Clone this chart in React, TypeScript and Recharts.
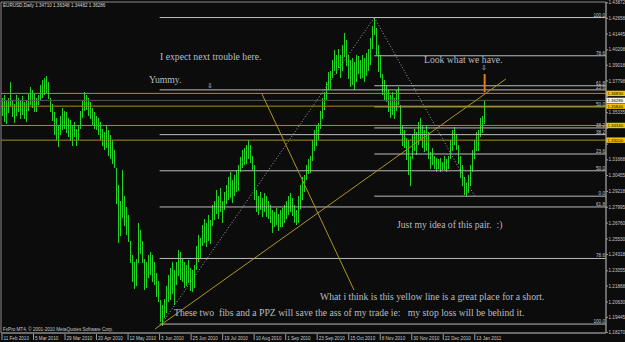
import React from 'react'
import { ComposedChart, Bar, XAxis, YAxis, ReferenceLine, ReferenceArea } from 'recharts'

// EURUSD daily bars, 11 Feb 2010 .. 20 Jan 2011
const highs = [
  1.365, 1.367, 1.363, 1.365, 1.377, 1.363, 1.36, 1.367, 1.365, 1.363,
  1.366, 1.362, 1.363, 1.368, 1.373, 1.371, 1.368, 1.366, 1.365, 1.367,
  1.375, 1.379, 1.38, 1.382, 1.377, 1.365, 1.36, 1.354, 1.349, 1.344,
  1.351, 1.357, 1.355, 1.354, 1.349, 1.348, 1.344, 1.346, 1.341, 1.344,
  1.355, 1.363, 1.369, 1.367, 1.365, 1.362, 1.357, 1.354, 1.351, 1.349,
  1.346, 1.341, 1.338, 1.344, 1.34, 1.336, 1.332, 1.324, 1.31, 1.297,
  1.285, 1.309, 1.289, 1.28, 1.274, 1.254, 1.243, 1.237, 1.24, 1.268,
  1.262, 1.254, 1.24, 1.237, 1.243, 1.245, 1.243, 1.237, 1.229, 1.223,
  1.208, 1.204, 1.209, 1.216, 1.219, 1.227, 1.233, 1.237, 1.231, 1.237,
  1.247, 1.245, 1.24, 1.237, 1.235, 1.239, 1.233, 1.231, 1.235, 1.25,
  1.258, 1.256, 1.266, 1.271, 1.268, 1.274, 1.27, 1.282, 1.285, 1.293,
  1.289, 1.295, 1.285, 1.292, 1.297, 1.303, 1.307, 1.301, 1.305, 1.309,
  1.313, 1.319, 1.324, 1.326, 1.328, 1.332, 1.328, 1.32, 1.313, 1.293,
  1.289, 1.292, 1.287, 1.291, 1.289, 1.285, 1.282, 1.278, 1.276, 1.279,
  1.275, 1.278, 1.279, 1.282, 1.285, 1.289, 1.291, 1.287, 1.282, 1.278,
  1.279, 1.289, 1.297, 1.303, 1.305, 1.313, 1.317, 1.32, 1.332, 1.34,
  1.344, 1.345, 1.355, 1.365, 1.369, 1.377, 1.385, 1.386, 1.394, 1.402,
  1.398, 1.403, 1.398, 1.406, 1.415, 1.41, 1.398, 1.394, 1.396, 1.393,
  1.398, 1.397, 1.394, 1.398, 1.396, 1.4, 1.403, 1.411, 1.421, 1.427,
  1.419, 1.406, 1.398, 1.383, 1.379, 1.375, 1.371, 1.367, 1.369, 1.365,
  1.371, 1.373, 1.359, 1.344, 1.34, 1.334, 1.332, 1.32, 1.336, 1.341,
  1.338, 1.346, 1.349, 1.344, 1.34, 1.344, 1.338, 1.332, 1.323, 1.326,
  1.32, 1.318, 1.317, 1.318, 1.315, 1.32, 1.317, 1.32, 1.332, 1.34,
  1.342, 1.336, 1.328, 1.32, 1.313, 1.303, 1.299, 1.305, 1.313, 1.324,
  1.332, 1.338, 1.34, 1.349, 1.351, 1.3635,
]
const lows = [
  1.351, 1.346, 1.344, 1.353, 1.358, 1.35, 1.345, 1.351, 1.354, 1.348,
  1.351, 1.349, 1.346, 1.355, 1.359, 1.357, 1.354, 1.355, 1.354, 1.359,
  1.363, 1.365, 1.367, 1.369, 1.364, 1.354, 1.347, 1.336, 1.332, 1.327,
  1.336, 1.34, 1.341, 1.338, 1.334, 1.332, 1.328, 1.334, 1.328, 1.332,
  1.341, 1.349, 1.354, 1.355, 1.351, 1.349, 1.344, 1.341, 1.34, 1.336,
  1.332, 1.328, 1.324, 1.326, 1.32, 1.317, 1.313, 1.31, 1.282, 1.252,
  1.258, 1.272, 1.266, 1.258, 1.253, 1.237, 1.222, 1.216, 1.219, 1.237,
  1.243, 1.237, 1.216, 1.217, 1.225, 1.227, 1.222, 1.219, 1.21, 1.207,
  1.191, 1.188, 1.194, 1.198, 1.2, 1.206, 1.208, 1.212, 1.204, 1.219,
  1.227, 1.223, 1.222, 1.217, 1.219, 1.221, 1.215, 1.214, 1.217, 1.231,
  1.237, 1.24, 1.25, 1.252, 1.249, 1.254, 1.251, 1.266, 1.27, 1.274,
  1.271, 1.276, 1.268, 1.278, 1.282, 1.285, 1.287, 1.283, 1.289, 1.292,
  1.293, 1.307, 1.31, 1.313, 1.313, 1.317, 1.314, 1.309, 1.286, 1.276,
  1.274, 1.278, 1.272, 1.276, 1.273, 1.271, 1.268, 1.26, 1.264, 1.266,
  1.262, 1.265, 1.264, 1.268, 1.271, 1.274, 1.276, 1.273, 1.268, 1.266,
  1.267, 1.271, 1.278, 1.285, 1.292, 1.301, 1.305, 1.307, 1.316, 1.324,
  1.328, 1.332, 1.341, 1.349, 1.355, 1.363, 1.371, 1.372, 1.38, 1.386,
  1.383, 1.388, 1.38, 1.386, 1.396, 1.39, 1.379, 1.373, 1.375, 1.371,
  1.377, 1.383, 1.379, 1.38, 1.377, 1.382, 1.386, 1.39, 1.403, 1.414,
  1.398, 1.385, 1.38, 1.367, 1.363, 1.362, 1.354, 1.349, 1.351, 1.349,
  1.355, 1.359, 1.336, 1.328, 1.326, 1.317, 1.305, 1.297, 1.317, 1.324,
  1.32, 1.328, 1.332, 1.326, 1.323, 1.324, 1.318, 1.317, 1.31, 1.313,
  1.31, 1.307, 1.309, 1.307, 1.309, 1.309, 1.307, 1.31, 1.317, 1.324,
  1.328, 1.324, 1.313, 1.303, 1.297, 1.289, 1.288, 1.291, 1.297, 1.307,
  1.317, 1.323, 1.324, 1.334, 1.338, 1.3448,
]

const dateTicks = [0, 16, 32, 48, 64, 80, 96, 112, 128, 144, 160, 176, 192, 208, 224, 240]
const dateLabels = [
  '11 Feb 2010', '5 Mar 2010', '29 Mar 2010', '20 Apr 2010', '12 May 2010', '3 Jun 2010',
  '25 Jun 2010', '19 Jul 2010', '10 Aug 2010', '1 Sep 2010', '23 Sep 2010', '15 Oct 2010',
  '8 Nov 2010', '30 Nov 2010', '22 Dec 2010', '13 Jan 2011',
]
const priceTicks = [
  1.43872, 1.42658, 1.41445, 1.40208, 1.39018, 1.37798, 1.3657, 1.35335, 1.34125, 1.3289, 1.31668,
  1.30455, 1.29218, 1.27995, 1.2676, 1.2553, 1.24318, 1.23055, 1.21868, 1.2063, 1.19445, 1.1827,
]

const ppzLevels = [1.3683, 1.3584, 1.3434, 1.332]
const bidPrice = 1.36286
const fibLevels = [0, 23.6, 38.2, 50, 61.8, 78.6, 100]
// fib A: June low -> November high, fib B: January low -> November high
const fibA = { start: 80, high: 1.4272, low: 1.1892 }
const fibB = { start: 189, high: 1.4272, low: 1.2885 }

const X_MIN = -0.5
const X_MAX = 306.6
const Y_MIN = 1.18225
const Y_MAX = 1.43927

const data = highs.map((h, i) => ({ i, hl: [lows[i], h] }))

const GREEN = '#22d422'
const GOLD = '#a8901c'
const FIB = '#bcbcbc'
const small = { fontFamily: 'Liberation Sans, Arial, sans-serif', fontSize: 4.6 }
const tagged = [...ppzLevels, bidPrice]

function HLBar(props: any) {
  const { x, y, width, height } = props
  if (x == null || y == null) return null
  // bars sit on even pixel columns so their colour survives the picture's compression
  const cx = 2 * Math.round((x + width / 2) / 2)
  const top = Math.round(y)
  const h = Math.max(Math.round(height), 1)
  return <rect x={cx} y={top} width={1} height={h} fill={GREEN} />
}

function PriceTick({ x, y, payload }: any) {
  // price tags on the axis cover the plain labels next to them
  const hidden = tagged.some((p) => Math.abs(p - payload.value) < 0.004)
  return (
    <g>
      <line x1={x} x2={x + 2} y1={y} y2={y} stroke="#9a9a9a" />
      {!hidden && (
        <text x={x + 2.5} y={y + 1.6} fill="#c8c8c8" style={small}>
          {payload.value.toFixed(5)}
        </text>
      )}
    </g>
  )
}

function DateTick({ x, y, payload }: any) {
  const k = dateTicks.indexOf(payload.value)
  return (
    <g>
      <line x1={x} x2={x} y1={y + 1} y2={y + 7} stroke="#9a9a9a" />
      <text x={x + 1.5} y={y + 6.5} fill="#c8c8c8" style={small}>
        {dateLabels[k]}
      </text>
    </g>
  )
}

function PriceTag({ viewBox, value, fill }: any) {
  const { x, y, width } = viewBox
  return (
    <g>
      <rect x={x + width} y={y - 2.7} width={19} height={5.4} fill={fill} />
      <text x={x + width + 1.5} y={y + 1.6} fill="#000" style={{ ...small, fontSize: 4.3 }}>
        {value.toFixed(5)}
      </text>
    </g>
  )
}

function FibTag({ viewBox, text }: any) {
  const { x, y, width } = viewBox
  if (!text) return null
  return (
    <text x={x + width - 1} y={y - 1} textAnchor="end" fill="#c8c8c8" style={small}>
      {text}
    </text>
  )
}

function fibLine(key: string, start: number, price: number, text: string) {
  return (
    <ReferenceLine
      key={key}
      segment={[{ x: start, y: price }, { x: X_MAX, y: price }]}
      stroke={FIB}
      ifOverflow="visible"
      label={<FibTag text={text} />}
    />
  )
}

export default function App() {
  const notes = { fontFamily: 'Liberation Serif, Times New Roman, serif', fontSize: 9.7, fill: '#b7bcc2', whiteSpace: 'pre' as const }
  return (
    <div style={{ position: 'fixed', left: 0, top: 0, width: 625, height: 342, background: '#0c0c0c' }}>
      <ComposedChart width={625} height={342} data={data} margin={{ top: 2, right: 0, bottom: 0, left: 1 }}>
        <XAxis
          type="number"
          dataKey="i"
          domain={[X_MIN, X_MAX]}
          allowDataOverflow
          ticks={dateTicks}
          interval={0}
          height={9}
          tickSize={0}
          tickMargin={0}
          tickLine={false}
          axisLine={{ stroke: '#8a8a8a' }}
          tick={<DateTick />}
        />
        <YAxis
          type="number"
          orientation="right"
          domain={[Y_MIN, Y_MAX]}
          allowDataOverflow
          ticks={priceTicks}
          interval={0}
          width={19}
          tickSize={0}
          tickMargin={0}
          tickLine={false}
          axisLine={{ stroke: '#8a8a8a' }}
          tick={<PriceTick />}
        />
        <ReferenceArea x1={X_MIN} x2={X_MAX} y1={Y_MIN} y2={Y_MAX} fill="none" stroke="#8a8a8a" ifOverflow="visible" />
        <Bar dataKey="hl" barSize={1} isAnimationActive={false} shape={<HLBar />} />

        {/* fib A 0.0 sits under fib B 100.0, so only one label is drawn there */}
        {fibLevels.map((l) =>
          fibLine('a' + l, fibA.start, fibA.high - ((fibA.high - fibA.low) * l) / 100, l === 0 ? '' : l.toFixed(1)),
        )}
        {fibLevels.map((l) =>
          fibLine('b' + l, fibB.start, fibB.low + ((fibB.high - fibB.low) * l) / 100, l.toFixed(1)),
        )}

        <ReferenceLine
          segment={[{ x: 81, y: fibA.low }, { x: 189, y: fibA.high }]}
          stroke="#a8a8a8"
          strokeDasharray="1 2"
          ifOverflow="visible"
        />
        <ReferenceLine
          segment={[{ x: 189, y: fibB.high }, { x: 240, y: fibB.low }]}
          stroke="#a8a8a8"
          strokeDasharray="1 2"
          ifOverflow="visible"
        />

        <ReferenceLine y={bidPrice} stroke="#555" label={<PriceTag value={bidPrice} fill="#f4f4f4" />} />
        {ppzLevels.map((v) => (
          <ReferenceLine key={v} y={v} stroke={GOLD} label={<PriceTag value={v} fill="#f0c800" />} />
        ))}

        <ReferenceLine segment={[{ x: 77.7, y: 1.18535 }, { x: 255.8, y: 1.37948 }]} stroke="#b09422" ifOverflow="visible" />
        <ReferenceLine segment={[{ x: 131.8, y: 1.36837 }, { x: 178.7, y: 1.2156 }]} stroke="#b09422" ifOverflow="visible" />
        <ReferenceLine segment={[{ x: 245, y: 1.38336 }, { x: 245, y: 1.36916 }]} stroke="#e87a10" strokeWidth={2} ifOverflow="visible" />
      </ComposedChart>

      <svg width={625} height={342} style={{ position: 'absolute', left: 0, top: 0, pointerEvents: 'none' }}>
        <text x={3} y={7} fill="#d8d8d8" style={small}>EURUSD,Daily  1.34710 1.36348 1.34482 1.36286</text>
        <text x={3} y={331} fill="#c8c8c8" style={small}>FxPro MT4, © 2001-2010 MetaQuotes Software Corp.</text>
        <text x={160} y={60} style={notes}>I expect next trouble here.</text>
        <text x={149} y={83} style={notes}>Yummy.</text>
        <text x={424} y={63} style={notes}>Look what we have.</text>
        <text x={397} y={228} style={notes}>Just my idea of this pair.  :)</text>
        <text x={320} y={300} style={notes}>What i think is this yellow line is a great place for a short.</text>
        <text x={174} y={316} style={notes}>These two  fibs and a PPZ will save the ass of my trade ie:   my stop loss will be behind it.</text>
        <text x={210} y={88} textAnchor="middle" fill="#c8c8c8" style={{ fontFamily: 'DejaVu Sans', fontSize: 7 }}>⇩</text>
        <text x={484} y={70} textAnchor="middle" fill="#c8c8c8" style={{ fontFamily: 'DejaVu Sans', fontSize: 7 }}>⇩</text>
      </svg>
    </div>
  )
}
